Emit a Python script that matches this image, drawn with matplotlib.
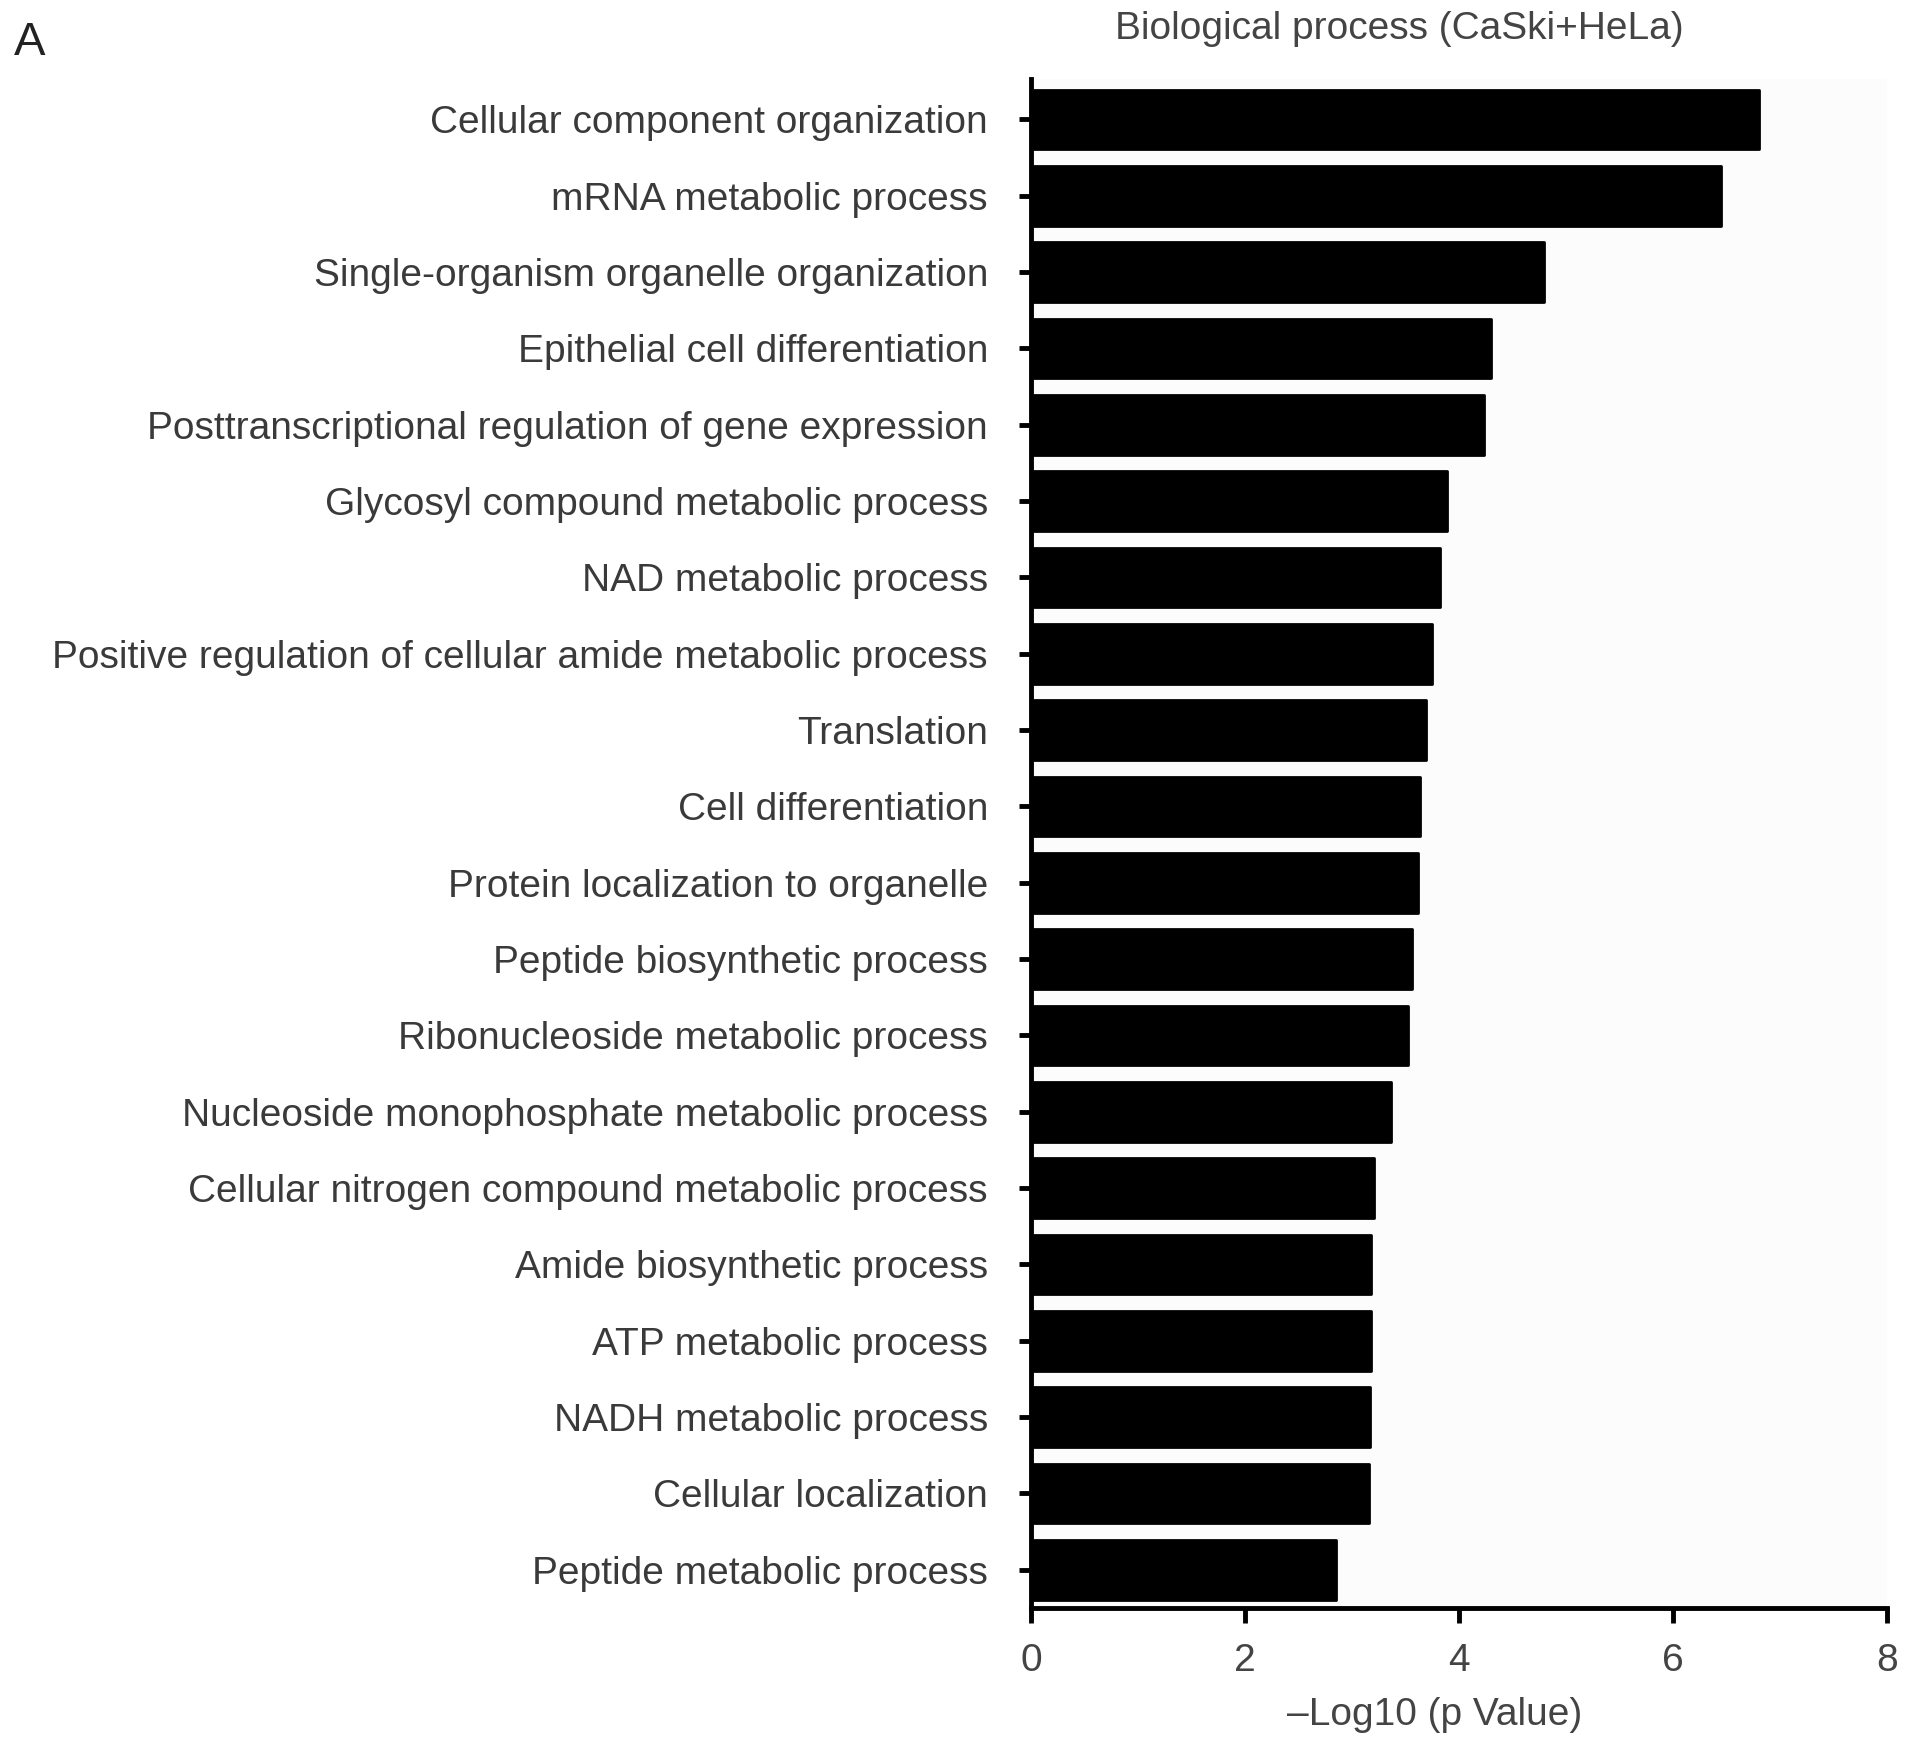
import matplotlib
matplotlib.use("Agg")
import matplotlib.pyplot as plt

categories = [
    "Cellular component organization",
    "mRNA metabolic process",
    "Single-organism organelle organization",
    "Epithelial cell differentiation",
    "Posttranscriptional regulation of gene expression",
    "Glycosyl compound metabolic process",
    "NAD metabolic process",
    "Positive regulation of cellular amide metabolic process",
    "Translation",
    "Cell differentiation",
    "Protein localization to organelle",
    "Peptide biosynthetic process",
    "Ribonucleoside metabolic process",
    "Nucleoside monophosphate metabolic process",
    "Cellular nitrogen compound metabolic process",
    "Amide biosynthetic process",
    "ATP metabolic process",
    "NADH metabolic process",
    "Cellular localization",
    "Peptide metabolic process",
]
values = [6.80, 6.45, 4.79, 4.30, 4.23, 3.89, 3.82, 3.75, 3.69, 3.64,
          3.62, 3.56, 3.52, 3.36, 3.21, 3.18, 3.18, 3.17, 3.16, 2.85]
xticks = [0, 2, 4, 6, 8]

plt.rcParams['font.family'] = ['Liberation Sans', 'DejaVu Sans']
W, H = 1913, 1747
fig = plt.figure(figsize=(W / 100, H / 100), dpi=100)
left, right, top, bottom = 1031, 1887, 79, 1608
ax = fig.add_axes([left / W, 1 - bottom / H, (right - left) / W, (bottom - top) / H])

n = len(categories)
ypos = list(range(n - 1, -1, -1))
ax.barh(ypos, values, height=0.78, color='black', edgecolor='black',
        linewidth=2, joinstyle='round', zorder=3)
ax.set_ylim(-0.5, n - 1 + 0.53)
ax.set_xlim(0, 8)
ax.set_yticks(ypos)
ax.set_yticklabels(categories, fontsize=28, color='#3a3a3a')
ax.set_xticks(xticks)
ax.set_xticklabels([str(t) for t in xticks], fontsize=28, color='#444444')
ax.set_xlabel("\u2013Log10 (p Value)", fontsize=28, color='#444444')
ax.xaxis.set_label_coords(0.472, -0.058)

for s in ['top', 'right']:
    ax.spines[s].set_visible(False)
for s in ['left', 'bottom']:
    ax.spines[s].set_linewidth(3.5)
    ax.spines[s].set_color('black')
ax.tick_params(axis='y', length=9, width=3.5, pad=22)
ax.tick_params(axis='x', length=11, width=3.5, pad=14)
ax.set_facecolor('#fcfcfc')

fig.text(1399 / W, 1 - 29 / H, "Biological process (CaSki+HeLa)", fontsize=28,
         color='#444444', ha='center', va='center')
fig.text(14 / W, 1 - 43 / H, "A", fontsize=34, color='#222222', ha='left', va='center')

fig.savefig("out.png", dpi=100, facecolor='white')
